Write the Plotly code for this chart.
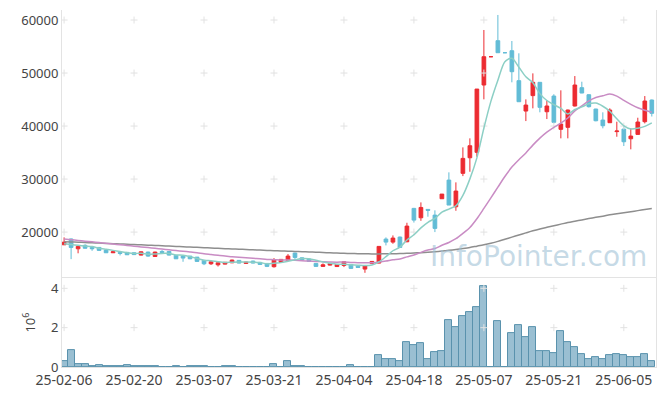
import plotly.graph_objects as go

# ---------------- data ----------------
dates = [
    "2025-02-06", "2025-02-07", "2025-02-10", "2025-02-11", "2025-02-12", "2025-02-13", "2025-02-14",
    "2025-02-17", "2025-02-18", "2025-02-19", "2025-02-20", "2025-02-21", "2025-02-24", "2025-02-25",
    "2025-02-26", "2025-02-27", "2025-02-28",
    "2025-03-04", "2025-03-05", "2025-03-06", "2025-03-07", "2025-03-10", "2025-03-11", "2025-03-12",
    "2025-03-13", "2025-03-14", "2025-03-17", "2025-03-18", "2025-03-19", "2025-03-20", "2025-03-21",
    "2025-03-24", "2025-03-25", "2025-03-26", "2025-03-27", "2025-03-28", "2025-03-31",
    "2025-04-01", "2025-04-02", "2025-04-03", "2025-04-04", "2025-04-07", "2025-04-08", "2025-04-09",
    "2025-04-10", "2025-04-11", "2025-04-14", "2025-04-15", "2025-04-16", "2025-04-17", "2025-04-18",
    "2025-04-21", "2025-04-22", "2025-04-23", "2025-04-24", "2025-04-25", "2025-04-28", "2025-04-29",
    "2025-04-30",
    "2025-05-02", "2025-05-07", "2025-05-08", "2025-05-09", "2025-05-12", "2025-05-13", "2025-05-14",
    "2025-05-15", "2025-05-16", "2025-05-19", "2025-05-20", "2025-05-21", "2025-05-22", "2025-05-23",
    "2025-05-26", "2025-05-27", "2025-05-28", "2025-05-29", "2025-05-30",
    "2025-06-02", "2025-06-04", "2025-06-05", "2025-06-09", "2025-06-10", "2025-06-11", "2025-06-12",
]

open_ = [17600, 18700, 16850, 17500, 17100, 17110, 16600, 16100, 16170, 16170,
         16100, 15660, 16230, 15400, 16350, 16350, 15600, 15470, 15470, 15280,
         14660, 14020, 13830, 13960, 14210, 14660, 14090, 14530, 14280, 14090,
         13470, 14280, 14660, 16040, 15150, 14910, 14090, 13530, 13770, 13500,
         13710, 13900, 13560, 13020, 14090, 14150, 18680, 18110, 19060, 18170,
         24470, 22700, 24280, 23200, 26290, 29810, 24780, 31080, 34020, 35040,
         47740, 53080, 56100, 53830, 54210, 48560, 42830, 45740, 48250, 42700,
         45660, 39380, 39760, 43780, 47240, 45910, 43210, 41130, 40630, 38950,
         39430, 37600, 38430, 40820, 44910]
high = [19000, 18800, 17400, 17700, 17150, 17150, 16650, 16300, 16250, 16200,
        16150, 16350, 16300, 16300, 16600, 16400, 15650, 15500, 15500, 15300,
        14700, 14450, 14250, 14350, 14800, 14700, 14400, 14600, 14300, 14150,
        15100, 14900, 15850, 16100, 15200, 14950, 14100, 14090, 14100, 13950,
        14450, 13950, 13600, 13700, 14500, 17300, 19000, 19370, 19150, 21760,
        24560, 25600, 24300, 24100, 27170, 31270, 29380, 35980, 37680, 46980,
        58120, 53080, 60950, 53830, 56040, 53720, 45030, 49940, 48300, 44780,
        46000, 46740, 43100, 49430, 48360, 46000, 43250, 42590, 43340, 40820,
        40190, 39570, 41570, 45660, 45000]
low = [17600, 14900, 16000, 16900, 16470, 16500, 16050, 16050, 15600, 15700,
       15700, 15600, 15350, 15350, 15900, 15600, 14950, 14400, 14900, 14400,
       13770, 13800, 13510, 13900, 14150, 14100, 14050, 14100, 13850, 13400,
       13300, 14200, 14600, 14900, 14700, 14450, 13450, 13500, 13700, 13450,
       13400, 13100, 13300, 12320, 14050, 14100, 17490, 17800, 17000, 18100,
       21800, 22130, 22900, 20000, 26290, 25100, 24020, 30560, 31380, 34210,
       45040, 53080, 53830, 53830, 48250, 44590, 40940, 43340, 42590, 41320,
       40500, 37680, 37680, 43700, 46200, 43500, 40900, 39570, 40600, 37980,
       36230, 35610, 38400, 40500, 41800]
close = [18100, 17100, 17300, 16950, 16850, 16550, 16100, 16280, 15980, 15720,
         15750, 16280, 15470, 16230, 16170, 15660, 14960, 15100, 14960, 14470,
         14020, 14400, 14210, 14300, 14720, 14150, 14340, 14150, 13900, 13530,
         14790, 14850, 15470, 15220, 14720, 14470, 13530, 13830, 14030, 13900,
         14400, 13150, 13340, 13650, 14470, 17300, 18110, 18870, 17100, 21130,
         22260, 24650, 24100, 20700, 27170, 25100, 27740, 33900, 36290, 46980,
         53080, 53080, 53830, 53830, 50250, 44590, 43960, 48250, 43530, 43780,
         40700, 40380, 43020, 47740, 46230, 43650, 41000, 40060, 43020, 39060,
         37040, 38110, 40760, 44720, 42400]

ma5 = [17800, 17650, 17500, 17380, 17260, 16950, 16750, 16550, 16350, 16130,
       15970, 16000, 15840, 15890, 15980, 15960, 15700, 15620, 15370, 15030,
       14700, 14590, 14410, 14280, 14330, 14360, 14340, 14330, 14250, 14010,
       14140, 14240, 14510, 14770, 15010, 14950, 14680, 14350, 14120, 13950,
       13940, 13860, 13760, 13690, 13800, 14380, 15370, 16480, 17170, 18500,
       19490, 20800, 21850, 22570, 23780, 24340, 24960, 26920, 30040, 34000,
       39600, 44650, 48640, 52150, 52800, 51100, 49290, 48180, 46120, 44820,
       44040, 43330, 42280, 43120, 43610, 44200, 44330, 43740, 42790, 41360,
       40040, 39460, 39600, 39940, 40610]
ma20 = [18700, 18560, 18430, 18290, 18160, 18020, 17880, 17750, 17610, 17480,
        17340, 17200, 17070, 16930, 16800, 16660, 16520, 16390, 16250, 16100,
        15900, 15760, 15610, 15470, 15370, 15250, 15160, 15050, 14950, 14840,
        14790, 14720, 14720, 14670, 14600, 14540, 14470, 14400, 14360, 14330,
        14350, 14280, 14240, 14210, 14200, 14350, 14540, 14780, 14940, 15320,
        15690, 16180, 16610, 16890, 17510, 18040, 18750, 19750, 20870, 22520,
        24460, 26450, 28470, 30480, 32270, 33640, 34930, 36400, 37720, 38850,
        39770, 40560, 41510, 42860, 43810, 44740, 45400, 45710, 46050, 45650,
        44850, 44100, 43450, 42990, 42600]
ma120 = [18200, 18140, 18090, 18030, 17980, 17920, 17870, 17810, 17760, 17700,
         17650, 17590, 17530, 17480, 17420, 17360, 17300, 17240, 17180, 17120,
         17060, 17000, 16940, 16880, 16820, 16770, 16710, 16660, 16600, 16550,
         16500, 16450, 16400, 16350, 16300, 16250, 16200, 16150, 16100, 16050,
         16000, 15960, 15920, 15900, 15890, 15890, 15900, 15920, 15950, 16000,
         16060, 16120, 16200, 16300, 16420, 16560, 16720, 16900, 17100, 17350,
         17600, 17900, 18250, 18650, 19050, 19450, 19850, 20250, 20600, 20900,
         21200, 21500, 21800, 22050, 22300, 22550, 22780, 23000, 23250, 23450,
         23650, 23850, 24050, 24250, 24450]

volume = [290000, 850000, 170000, 170000, 70000, 120000, 70000, 70000, 70000, 120000,
          70000, 70000, 70000, 70000, 20000, 20000, 70000, 20000, 70000, 70000,
          70000, 20000, 20000, 70000, 70000, 20000, 20000, 20000, 20000, 20000,
          170000, 20000, 290000, 70000, 70000, 20000, 20000, 20000, 20000, 20000,
          20000, 80000, 20000, 20000, 20000, 630000, 390000, 420000, 290000, 1250000,
          1100000, 1200000, 390000, 750000, 800000, 2370000, 2020000, 2610000, 2780000, 3030000,
          4100000, 0, 2310000, 0, 1710000, 2120000, 1510000, 2050000, 800000, 800000,
          700000, 1810000, 1250000, 1000000, 640000, 390000, 490000, 390000, 590000, 640000,
          590000, 490000, 490000, 640000, 290000]

price_ticks = [20000, 30000, 40000, 50000, 60000]
volume_ticks = [0, 2000000, 4000000]
volume_tick_text = ["0", "2", "4"]
tick_every = 10

# ---------------- figure ----------------
x_idx = list(range(len(dates)))
tick_idx = x_idx[::tick_every]
tick_text = [dates[i][2:] for i in tick_idx]

UP = "#ec2b31"
DOWN = "#62bcd6"
FONT = "Noto Sans"

fig = go.Figure()

# grid "+" marks at grid intersections
gx, gy = [], []
for xi in tick_idx:
    for yv in price_ticks:
        gx.append(xi)
        gy.append(yv)
fig.add_trace(go.Scatter(x=gx, y=gy, mode="markers", xaxis="x", yaxis="y",
                         marker=dict(symbol="cross-thin", size=5,
                                     line=dict(color="#e2e2e2", width=1)),
                         hoverinfo="skip", showlegend=False))
vx, vy = [], []
for xi in tick_idx:
    for yv in volume_ticks[1:]:
        vx.append(xi)
        vy.append(yv)
fig.add_trace(go.Scatter(x=vx, y=vy, mode="markers", xaxis="x", yaxis="y2",
                         marker=dict(symbol="cross-thin", size=5,
                                     line=dict(color="#e2e2e2", width=1)),
                         hoverinfo="skip", showlegend=False))

# watermark
fig.add_annotation(text="InfoPointer.com", x=83.6, y=15400, xref="x", yref="y",
                   xanchor="right", yanchor="middle", showarrow=False,
                   font=dict(family="DejaVu Sans", size=28, color="rgba(160,193,213,0.6)"))

# moving averages
for vals, col in [(ma120, "#8e8e8e"), (ma20, "#c98cc4"), (ma5, "#8ccfc5")]:
    fig.add_trace(go.Scatter(x=x_idx, y=vals, mode="lines", xaxis="x", yaxis="y",
                             line=dict(color=col, width=1.5, shape="spline", smoothing=0.8),
                             hoverinfo="skip", showlegend=False))

# candles
fig.add_trace(go.Candlestick(
    x=x_idx, open=open_, high=high, low=low, close=close,
    xaxis="x", yaxis="y",
    increasing=dict(line=dict(color=UP, width=1), fillcolor=UP),
    decreasing=dict(line=dict(color=DOWN, width=1), fillcolor=DOWN),
    whiskerwidth=0, showlegend=False))

# volume
fig.add_trace(go.Bar(x=x_idx, y=volume, xaxis="x", yaxis="y2",
                     marker=dict(color="rgba(120,170,195,0.75)",
                                 line=dict(color="#5a92ad", width=1)),
                     showlegend=False))

axis_common = dict(showline=True, linecolor="#e3e3e3", linewidth=1, mirror=True,
                   showgrid=False, zeroline=False, ticks="", automargin=False,
                   tickfont=dict(family=FONT, size=13, color="#444"))

fig.update_layout(
    width=665, height=396,
    margin=dict(l=62, r=9, t=10, b=29),
    paper_bgcolor="white", plot_bgcolor="white",
    showlegend=False, bargap=0, boxgap=0.25,
    xaxis=dict(domain=[0, 1], anchor="y2", range=[-0.3, 84.6],
               tickvals=tick_idx, ticktext=tick_text, rangeslider=dict(visible=False),
               **{**axis_common, "tickfont": dict(family=FONT, size=14, color="#444")}),
    yaxis=dict(domain=[0.249, 1], anchor="x", range=[11320, 61890],
               tickvals=price_ticks, tickformat="d", **axis_common),
    yaxis2=dict(domain=[0, 0.249], anchor="x", range=[0, 4520000],
                tickvals=volume_ticks, ticktext=volume_tick_text,
                title=dict(text="10<sup>6</sup>", standoff=12,
                           font=dict(family=FONT, size=13, color="#444")),
                **axis_common),
)

fig.write_html("out.html", config={"displayModeBar": False},
               post_script="document.body.style.margin='0px';document.body.style.overflow='hidden';")
